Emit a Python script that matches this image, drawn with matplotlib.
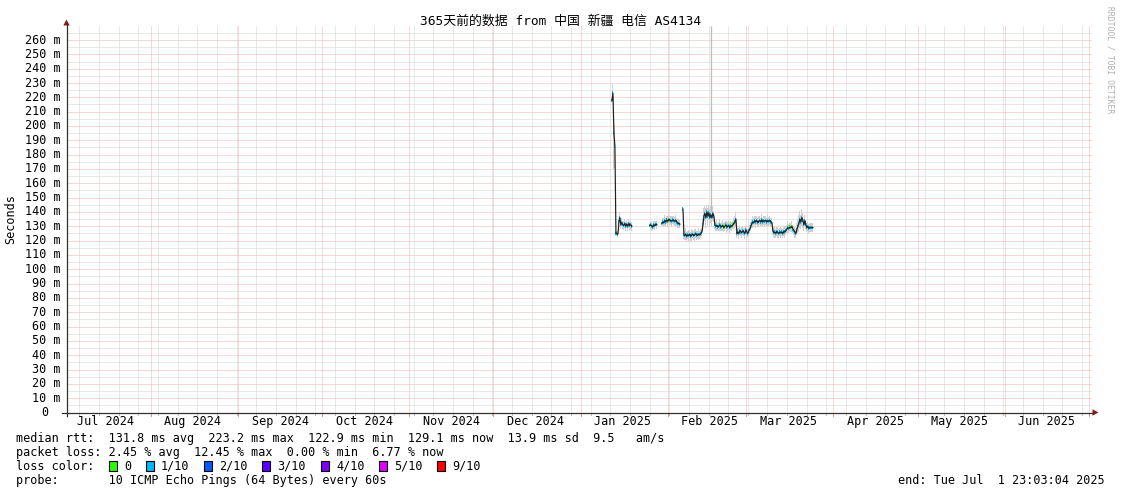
import numpy as np
import pandas as pd
import matplotlib
matplotlib.use("Agg")
import matplotlib.pyplot as plt
import matplotlib.dates as mdates
from matplotlib.patches import Rectangle, Polygon
from matplotlib.transforms import blended_transform_factory

# ---------------- data ----------------
TITLE = "365天前的数据 from 中国 新疆 电信 AS4134"
X_START = "2024-07-01 23:03:04"
X_END = "2025-07-01 23:03:04"
STEP_HOURS = 8.546          # consolidated RRD step (one sample per pixel column)

y_ticks = list(range(10, 270, 10))
y_tick_labels = [f"{v} m" for v in y_ticks]
month_labels = ["Jul 2024", "Aug 2024", "Sep 2024", "Oct 2024", "Nov 2024", "Dec 2024",
                "Jan 2025", "Feb 2025", "Mar 2025", "Apr 2025", "May 2025", "Jun 2025"]
month_label_dates = ["2024-07-16", "2024-08-16", "2024-09-16", "2024-10-16", "2024-11-16",
                     "2024-12-16", "2025-01-16", "2025-02-16", "2025-03-16", "2025-04-16",
                     "2025-05-16", "2025-06-16"]

seg_start = ["2025-01-12 04:30", "2025-01-25 17:00", "2025-01-30 00:00", "2025-02-06 11:30"]

med_A = [218, 223, 195, 186, 125, 125, 124.5, 133, 136, 131, 132.5, 131, 130.5, 132, 130,
         131.5, 130, 132, 130.5, 131, 130]
med_B = [130.5, 131, 130, 129.5, 131, 130.5, 131.5, 131]
med_C = [132, 133, 132.5, 134, 133, 134.5, 133.5, 135, 134, 134, 133.5, 134.5, 134, 133.5,
         134, 133, 132, 132, 131.5]
med_D = [142,
         124, 123.5, 124.5, 123, 124, 123.5, 124.5, 123, 124, 124.5, 123.5, 124, 125, 123.5,
         124, 124.5, 124, 125, 126,
         131,
         137, 139, 136, 140, 137, 139.5, 136, 138, 136, 139, 137,
         131, 130, 130.5, 129.5, 130, 131, 129.5, 130, 130.5, 129, 130, 131, 129.5, 130, 130.5,
         129, 130.5, 130, 131, 132, 133, 135,
         125, 126, 125, 127, 126, 125.5, 127, 126, 125, 127.5, 126, 125, 127, 128, 130,
         132, 133, 132.5, 134, 133, 134, 132.5, 133.5, 134, 133, 134.5, 133, 134, 133.5, 134,
         133, 134, 133.5, 134, 133, 132.5,
         127, 125.5, 126, 125, 126.5, 125.5, 125, 126, 125.5, 126, 125, 126.5, 126, 127, 128,
         129, 128.5, 129.5, 129, 130, 128, 127, 126,
         125, 128, 130, 132, 135, 133, 136, 134, 131, 134, 131, 129, 130, 128.5, 129, 129, 129,
         129.1]

smoke_A = [8, 6, 25, 15, 2, 2, 2, 3, 4, 3, 3, 3, 3, 3, 3, 3, 3, 3, 3, 3, 3]
smoke_B = [2, 3, 3, 2, 3, 3, 2, 3]
smoke_C = [3, 3, 3, 4, 3, 3, 4, 3, 3, 3, 4, 3, 3, 3, 4, 3, 3, 3, 3]
smoke_D = [2,
           3, 3, 4, 3, 3, 4, 3, 3, 4, 3, 3, 4, 3, 3, 3, 4, 3, 3, 3,
           5,
           6, 5, 7, 5, 6, 5, 6, 6, 6, 5, 4,
           3, 3, 4, 3, 3, 4, 3, 3, 4, 3, 3, 3, 4, 3, 3, 4, 3, 3, 3, 4, 4, 5,
           3, 3, 4, 3, 3, 4, 3, 3, 4, 3, 3, 3, 4, 3, 3,
           3, 4, 3, 3, 4, 3, 3, 4, 3, 3, 4, 3, 3, 4, 3, 3, 4, 3, 3, 3, 3,
           3, 3, 4, 3, 3, 4, 3, 3, 4, 3, 3, 3, 4, 3, 3, 4, 3, 3, 3, 4, 3, 3, 4,
           3, 4, 5, 6, 6, 5, 6, 5, 4, 4, 3, 3, 3, 3, 3, 3, 3, 3]

# loss bucket per sample (index into loss_labels)
loss_A = "111111111111111111111"
loss_B = "11011111"
loss_C = "1111111001111111111"
loss_D = ("1111111111" "1111111111" "1111111111" "1111111111"
          "000" "111111" "000"
          "1111111111" "1111111111" "1111111111" "1111111111" "1111111111" "11111"
          "000"
          "1111111111" "1111111111" "1")

smoke_outlier_time = "2025-02-16 15:00"
smoke_outlier_range = (141, 270)

loss_labels = ["0", "1/10", "2/10", "3/10", "4/10", "5/10", "9/10"]
loss_colors = ["#26ff00", "#00b8ff", "#0059ff", "#5e00ff", "#7e00ff", "#dd00ff", "#ff0000"]

legend_line1 = "median rtt:  131.8 ms avg  223.2 ms max  122.9 ms min  129.1 ms now  13.9 ms sd  9.5   am/s"
legend_line2 = "packet loss: 2.45 % avg  12.45 % max  0.00 % min  6.77 % now"
legend_line3 = "loss color:"
legend_line4 = "probe:       10 ICMP Echo Pings (64 Bytes) every 60s"
end_text = "end: Tue Jul  1 23:03:04 2025"
watermark = "RRDTOOL / TOBI OETIKER"
y_title = "Seconds"

# ---------------- figure ----------------
W, H = 1121, 494
FS = 8.5
plt.rcParams["font.family"] = ["DejaVu Sans Mono", "Noto Sans CJK SC"]

fig = plt.figure(figsize=(W / 100, H / 100), dpi=100)
fig.patch.set_facecolor("white")

L, R, T, B = 66.5, 1091.5, 25.7, 412.5
ax = fig.add_axes([L / W, 1 - B / H, (R - L) / W, (B - T) / H])
x0 = mdates.date2num(pd.Timestamp(X_START).to_pydatetime())
x1 = mdates.date2num(pd.Timestamp(X_END).to_pydatetime())
ax.set_xlim(x0, x1)
ax.set_ylim(0, 270)
for s in ax.spines.values():
    s.set_visible(False)
ax.set_xticks([])
ax.set_yticks([])
ax.patch.set_alpha(0)

GREY = "#d2d2d2"
RED = "#f4b0b0"
dot = (0, (1, 1))

# horizontal grid
for v in range(5, 270, 10):
    ax.axhline(v, color=GREY, lw=0.72, ls=dot, zorder=1)
for v in y_ticks:
    ax.axhline(v, color=RED, lw=0.72, ls=dot, zorder=1)

# vertical grid
weeks = pd.date_range("2024-07-06 14:00", "2025-07-01", freq="7D")
months = pd.date_range("2024-08-01", "2025-07-01", freq="MS")
xa = ax.get_xaxis_transform()
for d in weeks:
    xd = mdates.date2num(d.to_pydatetime())
    ax.axvline(xd, color=GREY, lw=0.72, ls=dot, zorder=1)
    ax.plot([xd, xd], [0, -2 / 386], transform=xa, color="#c0c0c0", lw=0.72, clip_on=False)
for d in months:
    xd = mdates.date2num(d.to_pydatetime())
    ax.axvline(xd, color=RED, lw=0.72, ls=dot, zorder=1)
    ax.plot([xd, xd], [0, -3 / 386], transform=xa, color="#e89090", lw=0.72, clip_on=False)

# x labels
for lab, d in zip(month_labels, month_label_dates):
    xd = mdates.date2num(pd.Timestamp(d).to_pydatetime())
    ax.text(xd, -(421.5 - 412.5) / 386, lab, transform=xa, ha="center", va="center",
            fontsize=FS)

# data
step_days = STEP_HOURS / 24.0
segments = [(seg_start[0], med_A, smoke_A, loss_A),
            (seg_start[1], med_B, smoke_B, loss_B),
            (seg_start[2], med_C, smoke_C, loss_C),
            (seg_start[3], med_D, smoke_D, loss_D)]
for st, med, sm, lo in segments:
    med = np.asarray(med, float)
    sm = np.asarray(sm, float)
    bk = np.array([int(c) for c in lo])
    t = pd.Timestamp(st) + pd.to_timedelta(np.arange(len(med)) * STEP_HOURS, unit="h")
    x = mdates.date2num(t.to_pydatetime())
    ax.fill_between(x, med - sm, med + sm, step="mid", color="#cfcfcf", lw=0, zorder=2)
    for b in np.unique(bk):
        m = bk == b
        ax.bar(x[m], 2.2, bottom=med[m] - 1.1, width=step_days * 1.05,
               color=loss_colors[b], lw=0, zorder=3)
    ax.plot(x, med, color="#202020", lw=0.85, zorder=4)

xo = mdates.date2num(pd.Timestamp(smoke_outlier_time).to_pydatetime())
ax.vlines(xo, smoke_outlier_range[0], smoke_outlier_range[1], color="#bcbcbc", lw=0.9, zorder=2)

# ---------------- overlay (axes, texts) ----------------
ov = fig.add_axes([0, 0, 1, 1])
ov.set_xlim(0, W)
ov.set_ylim(H, 0)
ov.axis("off")
ov.patch.set_alpha(0)

AX = "#303030"
ARROW = "#8b1a1a"
ov.plot([L, L], [B + 3, 24], color=AX, lw=0.9)
ov.add_patch(Polygon([[L - 3.2, 25.5], [L + 3.2, 25.5], [L, 19.5]], closed=True,
                     color=ARROW, lw=0))
ov.plot([62, 1093], [B, B], color=AX, lw=0.9)
ov.add_patch(Polygon([[1092.5, B - 3.2], [1092.5, B + 3.2], [1098.5, B]], closed=True,
                     color=ARROW, lw=0))

# y labels
ytr = blended_transform_factory(ov.transData, ax.transData)
for v, lab in zip(y_ticks, y_tick_labels):
    ov.text(60.5, v, lab, transform=ytr, ha="right", va="center", fontsize=FS)
ov.text(48.5, 0, "0", transform=ytr, ha="right", va="center", fontsize=FS)

ov.text(W / 2, 21, TITLE, ha="center", va="center", fontsize=9.3)
ov.text(11, (T + B) / 2, y_title, rotation=90, ha="center", va="center", fontsize=FS)
ov.text(1110, 60, watermark, rotation=270, ha="center", va="center", fontsize=5.8,
        color="#b0b0b0")

ov.text(16, 438, legend_line1, ha="left", va="center", fontsize=FS)
ov.text(16, 452, legend_line2, ha="left", va="center", fontsize=FS)
ov.text(16, 466, legend_line3, ha="left", va="center", fontsize=FS)
box_x = [108.5, 145.5, 203.5, 261.5, 320.5, 378.5, 436.5]
for bx, lab, col in zip(box_x, loss_labels, loss_colors):
    ov.add_patch(Rectangle((bx, 461), 8, 10, facecolor=col, edgecolor="black", lw=0.8))
    ov.text(bx + 15.5, 466, lab, ha="left", va="center", fontsize=FS)
ov.text(16, 480, legend_line4, ha="left", va="center", fontsize=FS)
ov.text(1105, 480, end_text, ha="right", va="center", fontsize=FS)

fig.savefig("out.png", dpi=100, facecolor="white")
